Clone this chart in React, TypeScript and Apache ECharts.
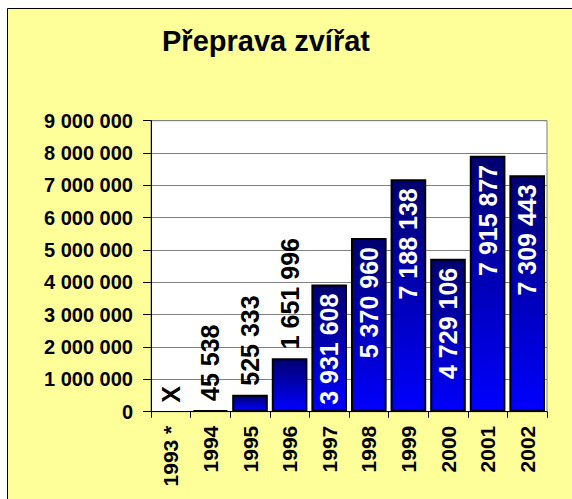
import React, { useEffect, useRef } from "react";
import * as echarts from "echarts";

const titleText = "Přeprava zvířat";
const categories = ["1993 *", "1994", "1995", "1996", "1997", "1998", "1999", "2000", "2001", "2002"];
const values: (number | null)[] = [null, 45538, 525333, 1651996, 3931608, 5370960, 7188138, 4729106, 7915877, 7309443];
const missingLabel = "X";
const yMin = 0;
const yMax = 9000000;
const yInterval = 1000000;

const FONT = "'Liberation Sans', Arial, sans-serif";

const fmt = (v: number) => String(v).replace(/\B(?=(\d{3})+(?!\d))/g, " ");

export default function App() {
  const ref = useRef<HTMLDivElement>(null);
  useEffect(() => {
    if (!ref.current) return;
    const chart = echarts.init(ref.current, null, { renderer: "svg" });
    const data = values.map((v) => {
      if (v == null) {
        return {
          value: 0,
          itemStyle: { color: "transparent", borderWidth: 0 },
          label: {
            show: true,
            formatter: missingLabel,
            position: "top",
            rotate: 90,
            align: "left",
            verticalAlign: "middle",
            distance: 9,
            color: "#000",
          },
        };
      }
      const outside = v < 2000000;
      return {
        value: v,
        label: outside
          ? { position: "top", align: "left", verticalAlign: "middle", distance: 9, color: "#000" }
          : { position: "insideTop", align: "right", verticalAlign: "middle", distance: 9, color: "#fff" },
      };
    });
    chart.setOption({
      animation: false,
      backgroundColor: "#ffffff",
      graphic: [
        {
          type: "rect",
          z: -10,
          silent: true,
          shape: { x: 7.5, y: 8.5, width: 700, height: 700 },
          style: { fill: "#FFFF99", stroke: "#000", lineWidth: 1 },
        },
      ],
      title: {
        text: titleText,
        left: 162,
        top: 26,
        padding: 0,
        textStyle: { fontFamily: FONT, fontSize: 29, fontWeight: "bold", color: "#000" },
      },
      grid: {
        left: 151,
        right: 25,
        top: 120.7,
        bottom: 87.3,
        show: true,
        backgroundColor: "#ffffff",
        borderColor: "#808080",
        borderWidth: 1,
      },
      xAxis: {
        type: "category",
        data: categories,
        axisLine: { show: true, lineStyle: { color: "#000", width: 1 } },
        axisTick: { show: true, length: 6, alignWithLabel: false, lineStyle: { color: "#000" } },
        axisLabel: {
          rotate: 90,
          margin: 14,
          interval: 0,
          fontFamily: FONT,
          fontSize: 21,
          fontWeight: "bold",
          color: "#000",
        },
      },
      yAxis: {
        type: "value",
        min: yMin,
        max: yMax,
        interval: yInterval,
        axisLine: { show: true, lineStyle: { color: "#000", width: 1 } },
        axisTick: { show: true, length: 8, lineStyle: { color: "#000" } },
        splitLine: { show: true, lineStyle: { color: "#808080", width: 1 } },
        axisLabel: {
          margin: 18,
          fontFamily: FONT,
          fontSize: 20,
          fontWeight: "bold",
          color: "#000",
          formatter: (v: number) => fmt(v),
        },
      },
      series: [
        {
          type: "bar",
          data,
          barWidth: "90%",
          itemStyle: {
            color: new echarts.graphic.LinearGradient(0, 0, 0, 1, [
              { offset: 0, color: "#000070" },
              { offset: 1, color: "#0000FF" },
            ]),
            borderColor: "#000",
            borderWidth: 2,
          },
          label: {
            show: true,
            rotate: 90,
            fontFamily: FONT,
            fontSize: 25,
            fontWeight: "bold",
            formatter: (p: any) => fmt(p.value),
          },
        },
      ],
    });
    return () => chart.dispose();
  }, []);
  return <div ref={ref} style={{ position: "absolute", left: 0, top: 0, width: 572, height: 499 }} />;
}
